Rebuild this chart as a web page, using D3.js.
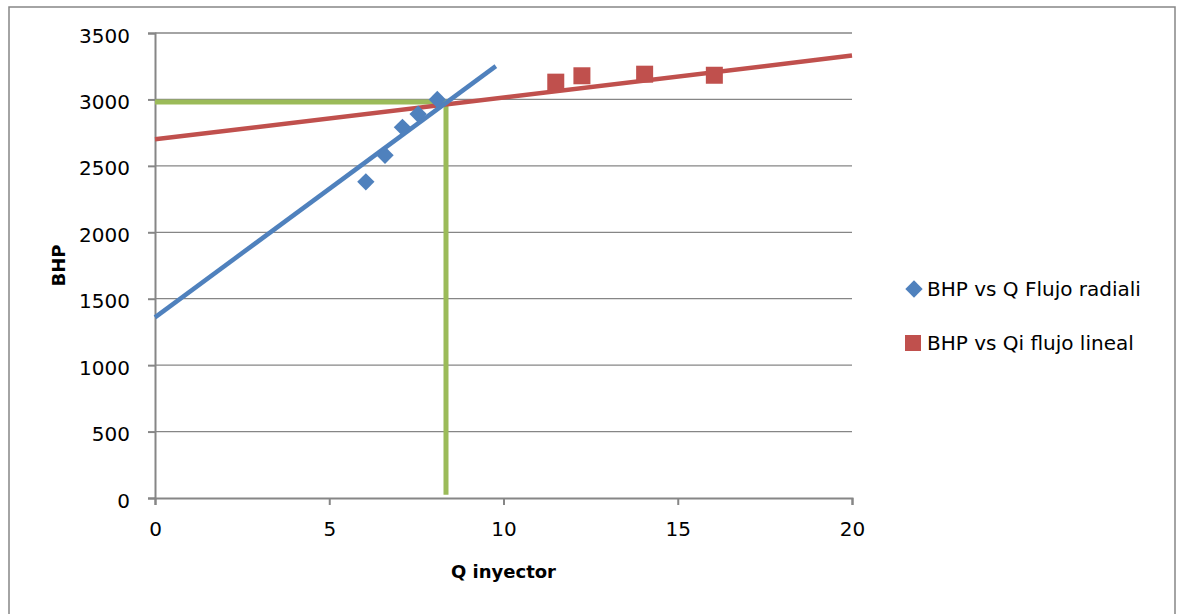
<!DOCTYPE html>
<html>
<head>
<meta charset="utf-8">
<script src="https://cdn.jsdelivr.net/npm/d3@7"></script>
<style>
  html, body { margin: 0; padding: 0; background: #fff; }
  svg { display: block; font-family: "DejaVu Sans", sans-serif; }
</style>
</head>
<body>
<svg id="chart" width="1183" height="614"></svg>
<script>
// ---- data ----
const radialQ   = [6.05, 6.6, 7.1, 7.55, 8.1];
const radialBHP = [2380, 2580, 2790, 2890, 3000];
const linealQ   = [11.5, 12.25, 14.05, 16.05];
const linealBHP = [3130, 3178, 3190, 3182];
const radialTrendQ   = [0, 9.78];
const radialTrendBHP = [1360, 3251];
const linealTrendQ   = [0, 20];
const linealTrendBHP = [2700, 3330];
const guideQ   = [0, 8.35, 8.35];
const guideBHP = [2980, 2980, 25];
const xTicks = [0, 5, 10, 15, 20];
const yTicks = [0, 500, 1000, 1500, 2000, 2500, 3000, 3500];
const seriesNames = ["BHP vs Q Flujo radiali", "BHP vs Qi flujo lineal"];
const xTitle = "Q inyector";
const yTitle = "BHP";

(function () {
const blue = "#4F81BD", red = "#C0504D", green = "#9BBB59", grid = "#868686";

const svg = d3.select("#chart");
const pL = 155, pR = 852, pT = 33, pB = 498;

const x = d3.scaleLinear().domain([0, 20]).range([pL, pR]);
const y = d3.scaleLinear().domain([0, 3500]).range([pB, pT]);

// outer chart border
svg.append("rect").attr("x", 9).attr("y", 7).attr("width", 1166).attr("height", 620)
  .attr("fill", "none").attr("stroke", grid).attr("stroke-width", 1.5);

// horizontal gridlines
svg.append("g").selectAll("line").data(yTicks.filter(d => d > 0)).join("line")
  .attr("x1", pL).attr("x2", pR)
  .attr("y1", d => y(d)).attr("y2", d => y(d))
  .attr("stroke", grid).attr("stroke-width", 1.3);

// y axis
const yAxis = svg.append("g").attr("transform", `translate(${pL},0)`)
  .call(d3.axisLeft(y).tickValues(yTicks).tickSize(7).tickPadding(18).tickFormat(d3.format("d")));
// x axis
const xAxis = svg.append("g").attr("transform", `translate(0,${pB})`)
  .call(d3.axisBottom(x).tickValues(xTicks).tickSize(7).tickPadding(17).tickFormat(d3.format("d")));

[yAxis, xAxis].forEach(a => {
  a.select(".domain").attr("stroke", grid).attr("stroke-width", 2);
  a.selectAll(".tick line").attr("stroke", grid).attr("stroke-width", 2);
  a.selectAll(".tick text").attr("font-size", 20).attr("fill", "#000")
    .attr("font-family", "DejaVu Sans, sans-serif");
});
yAxis.selectAll(".tick text").attr("dy", "0.45em");
xAxis.selectAll(".tick text").attr("dy", "0.71em");

const line = d3.line().x(d => x(d[0])).y(d => y(d[1]));

// green guide
svg.append("path").datum(d3.zip(guideQ, guideBHP)).attr("d", line)
  .attr("fill", "none").attr("stroke", green).attr("stroke-width", 5);
// red trend
svg.append("path").datum(d3.zip(linealTrendQ, linealTrendBHP)).attr("d", line)
  .attr("fill", "none").attr("stroke", red).attr("stroke-width", 4.5);
// blue trend
svg.append("path").datum(d3.zip(radialTrendQ, radialTrendBHP)).attr("d", line)
  .attr("fill", "none").attr("stroke", blue).attr("stroke-width", 4.5);

const diamond = d3.symbol().type(d3.symbolSquare).size(150);
// blue diamonds
svg.append("g").selectAll("path").data(d3.zip(radialQ, radialBHP)).join("path")
  .attr("d", diamond)
  .attr("transform", d => `translate(${x(d[0])},${y(d[1])}) rotate(45)`)
  .attr("fill", blue);
// red squares
const sq = 17;
svg.append("g").selectAll("rect").data(d3.zip(linealQ, linealBHP)).join("rect")
  .attr("x", d => x(d[0]) - sq / 2).attr("y", d => y(d[1]) - sq / 2)
  .attr("width", sq).attr("height", sq).attr("fill", red);

// axis titles
svg.append("text").attr("x", (pL + pR) / 2).attr("y", 571)
  .attr("text-anchor", "middle").attr("dominant-baseline", "central")
  .attr("font-size", 18).attr("font-weight", "bold").attr("fill", "#000").text(xTitle);
svg.append("text").attr("transform", `translate(58,${(pT + pB) / 2}) rotate(-90)`)
  .attr("text-anchor", "middle").attr("dominant-baseline", "central")
  .attr("font-size", 18).attr("font-weight", "bold").attr("fill", "#000").text(yTitle);

// legend
const lg = svg.append("g");
const rows = [289, 343];
lg.append("path").attr("d", d3.symbol().type(d3.symbolSquare).size(150))
  .attr("transform", `translate(914,${rows[0]}) rotate(45)`).attr("fill", blue);
lg.append("rect").attr("x", 905).attr("y", rows[1] - 8).attr("width", 16).attr("height", 16).attr("fill", red);
lg.selectAll("text").data(seriesNames).join("text")
  .attr("x", 927).attr("y", (d, i) => rows[i])
  .attr("dominant-baseline", "central").attr("font-size", 20).attr("fill", "#000")
  .text(d => d);
})();
</script>
</body>
</html>
